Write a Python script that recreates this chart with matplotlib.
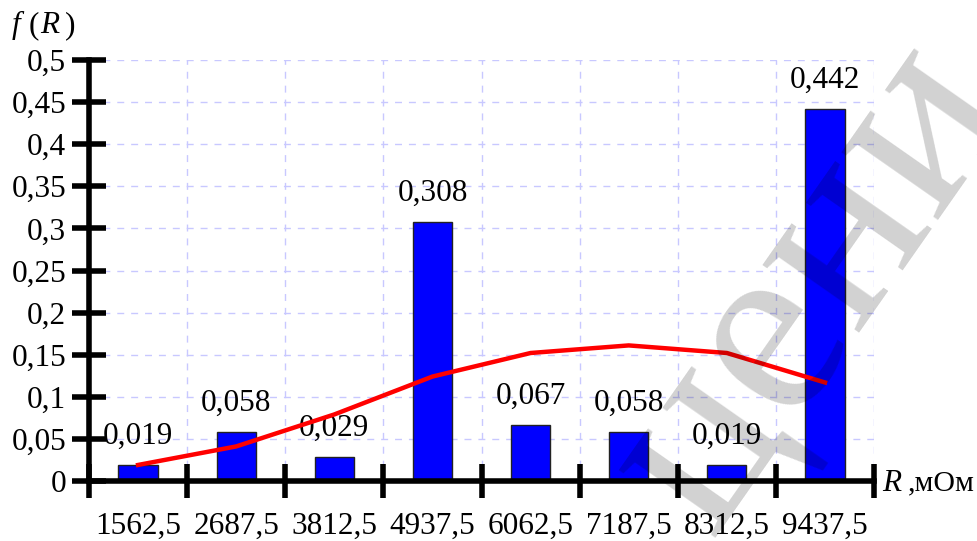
import numpy as np
import matplotlib
matplotlib.use('Agg')
import matplotlib.pyplot as plt

# интервалы сопротивления (середины), мОм
centers = ['1562,5', '2687,5', '3812,5', '4937,5', '6062,5', '7187,5', '8312,5', '9437,5']
# относительные частоты
freq = [0.019, 0.058, 0.029, 0.308, 0.067, 0.058, 0.019, 0.442]
freq_labels = ['0,019', '0,058', '0,029', '0,308', '0,067', '0,058', '0,019', '0,442']
# теоретическая плотность
theory = [0.019, 0.041, 0.079, 0.124, 0.152, 0.161, 0.152, 0.117]

yticks = [0, 0.05, 0.1, 0.15, 0.2, 0.25, 0.3, 0.35, 0.4, 0.45, 0.5]
ytick_labels = ['0', '0,05', '0,1', '0,15', '0,2', '0,25', '0,3', '0,35', '0,4', '0,45', '0,5']

plt.rcParams['font.family'] = ['Liberation Serif', 'DejaVu Serif']
FS = 22.5

fig = plt.figure(figsize=(9.78, 5.41), dpi=100)
ax = fig.add_axes([0.091, 0.111, 0.8027, 0.778])

x = np.arange(len(centers)) + 0.5
ax.bar(x, freq, width=0.4, color='#0000ff', edgecolor='#222222', linewidth=1, zorder=2)
ax.plot(x, theory, color='#ff0000', linewidth=3.2, zorder=5)

for xi, v, lab in zip(x, freq, freq_labels):
    ax.annotate(lab, (xi, v), xytext=(0, 10), textcoords='offset points',
                ha='center', va='bottom', fontsize=FS, zorder=3)

ax.set_xlim(0, len(centers))
ax.set_ylim(0, 0.5)

# границы интервалов - основные деления, подписи - по центрам
ax.set_xticks(np.arange(len(centers) + 1))
ax.set_xticklabels([])
ax.set_xticks(x, minor=True)
ax.set_xticklabels(centers, minor=True, fontsize=FS)
ax.tick_params(axis='x', which='major', direction='inout', length=24, width=4)
ax.tick_params(axis='x', which='minor', length=0, pad=22)

ax.set_yticks(yticks)
ax.set_yticklabels(ytick_labels, fontsize=FS)
ax.tick_params(axis='y', direction='inout', length=24, width=4, pad=4.5)

for s in ['top', 'right']:
    ax.spines[s].set_visible(False)
for s in ['left', 'bottom']:
    ax.spines[s].set_linewidth(4)
    ax.spines[s].set_zorder(6)

ax.grid(True, which='major', color='#c8c8ff', linestyle=(0, (5, 5)), linewidth=1, zorder=0)
ax.set_axisbelow(True)

# подпись оси ординат f(R)
fig.text(0.012, 0.953, 'f', fontsize=FS, va='center', style='italic')
fig.text(0.029, 0.953, '(', fontsize=FS, va='center')
fig.text(0.041, 0.953, 'R', fontsize=FS, va='center', style='italic')
fig.text(0.066, 0.953, ')', fontsize=FS, va='center')

# подпись оси абсцисс
fig.text(0.902, 0.106, 'R', fontsize=FS, va='center', style='italic')
fig.text(0.928, 0.106, ',мОм', fontsize=FS - 1, va='center')

# водяной знак
fig.text(0.83, 0.47, 'цени', fontsize=185, rotation=55, color='black', alpha=0.18,
         ha='center', va='center', zorder=10)

fig.savefig('out.png', dpi=100)
